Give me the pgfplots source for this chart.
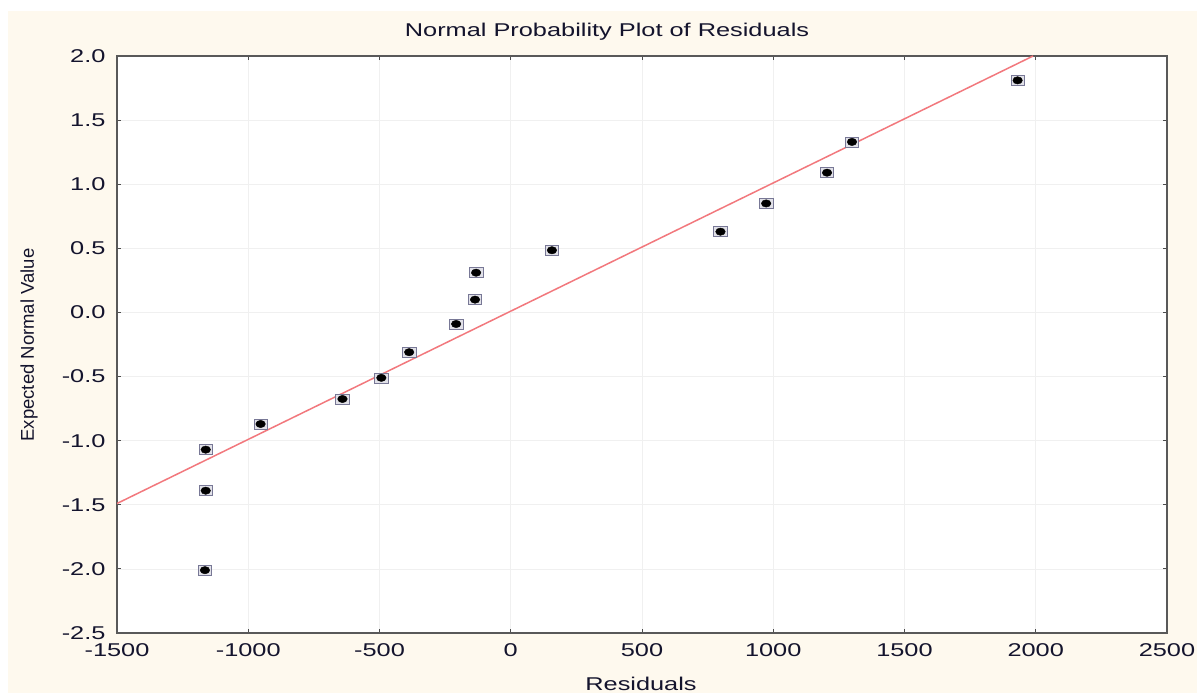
\documentclass[border=0pt]{standalone}
\usepackage{pgfplots}
\usepackage{pgfplotstable}
\pgfplotsset{compat=1.18}
\usepackage{fontspec}
\setmainfont{Liberation Sans}[FakeStretch=1.37]
\newfontfamily\ylabfont{Liberation Sans}
\definecolor{cream}{RGB}{254,249,238}
\definecolor{redline}{RGB}{242,120,125}
\definecolor{boxcol}{RGB}{120,120,150}
\definecolor{boxfill}{RGB}{225,225,232}
\definecolor{txt}{RGB}{20,20,45}
\pgfplotstableread{
x y
-1165 -2.01
-1162 -1.39
-1162 -1.07
-953 -0.87
-641 -0.675
-493 -0.51
-387 -0.31
-208 -0.09
-136 0.10
-132 0.31
157 0.485
799 0.63
973 0.85
1205 1.09
1300 1.33
1931 1.81
}\resid
\begin{document}
\begin{tikzpicture}
\useasboundingbox (-117bp,-60bp) rectangle (1080bp,633bp);
\fill[white] (-117bp,-60bp) rectangle (1080bp,633bp);
\fill[cream] (-109bp,-60bp) rectangle (1080bp,622bp);
\begin{axis}[
 scale only axis, width=1050bp, height=577bp,
 at={(0,0)}, anchor=south west,
 xmin=-1500, xmax=2500, ymin=-2.5, ymax=2.0,
 xtick={-1500,-1000,...,2500}, ytick={-2.5,-2,...,2},
 axis background/.style={fill=white},
 grid=major, major grid style={black!6, line width=0.6pt},
 axis line style={black!65, line width=1.3pt},
 tick style={black!70, line width=0.8pt}, major tick length=4bp,
 tick align=inside,
 /pgf/number format/assume math mode=true,
 ticklabel style={font=\fontsize{18.5bp}{20bp}\selectfont, text=txt},
 yticklabel style={/pgf/number format/fixed, /pgf/number format/fixed zerofill, /pgf/number format/precision=1, xshift=-8bp},
 xticklabel style={/pgf/number format/1000 sep={}, yshift=-7bp},
 clip=true,
]
\addplot[only marks, mark=square*, mark size=5bp, mark options={draw=boxcol, fill=boxfill, line width=0.6pt, xscale=1.35}] table[x=x,y=y] {\resid};
\addplot[only marks, mark=*, mark size=3.7bp, mark options={fill=black, draw=black, xscale=1.3}] table[x=x,y=y] {\resid};
\addplot[redline, line width=1.5pt] coordinates {(-1500,-1.49) (1990,2.0)};
\end{axis}
\node[text=txt, font=\fontsize{18.5bp}{20bp}\selectfont] at (490bp,601bp) {Normal Probability Plot of Residuals};
\node[text=txt, font=\fontsize{18.5bp}{20bp}\selectfont] at (524bp,-51bp) {Residuals};
\node[text=txt, rotate=90, font=\ylabfont\fontsize{18.5bp}{20bp}\selectfont] at (-88bp,288bp) {Expected Normal Value};
\end{tikzpicture}
\end{document}
